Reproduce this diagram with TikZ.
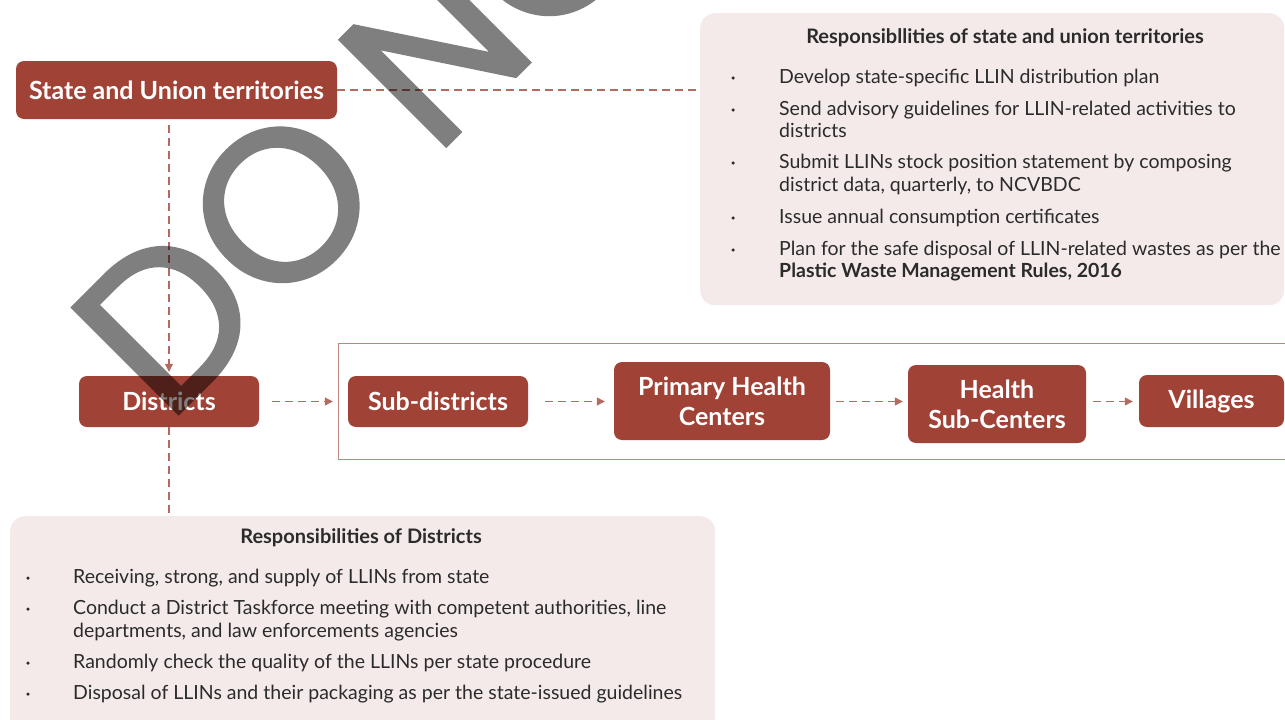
\documentclass[tikz,border=0pt]{standalone}
\usepackage{fontspec}
\setmainfont{Lato}
\newfontfamily\wmfont[FakeBold=1.5]{Poppins}
\usetikzlibrary{arrows.meta}
\definecolor{brick}{HTML}{A04236}
\definecolor{pinkbg}{HTML}{F5EAEA}
\definecolor{linec}{HTML}{B36A60}
\definecolor{framec}{HTML}{BF857D}
\definecolor{txt}{HTML}{2B2B2B}
\begin{document}
\begin{tikzpicture}[x=1pt,y=-1pt,
  flowbox/.style={fill=brick, rounded corners=8pt, text=white, font=\fontsize{25}{30}\selectfont\bfseries, align=center, inner sep=0pt},
  conn/.style={draw=linec, line width=1.2pt, dash pattern=on 8pt off 5pt},
  arr/.style={conn, -{Triangle[length=8pt,width=8pt]}},
  panel/.style={fill=pinkbg, rounded corners=15pt, inner sep=0pt, anchor=north west},
  ln/.style={font=\fontsize{19.5}{23}\selectfont, text=txt, anchor=base west, inner sep=0pt},
  dot/.style={circle, fill=txt, inner sep=0pt, minimum size=3.5pt},
  head/.style={font=\fontsize{20}{24}\selectfont\bfseries, text=txt, anchor=base, inner sep=0pt}]
\useasboundingbox (0,0) rectangle (1285,720);
\clip (0,0) rectangle (1285,720);

% panels
\node[panel, minimum width=584pt, minimum height=292pt] (rpanel) at (700,13) {};
\node[panel, minimum width=705pt, minimum height=230pt] (dpanel) at (10,516) {};
\node[draw=framec, line width=1.3pt, minimum width=960pt, minimum height=116pt, anchor=north west, inner sep=0pt] (frame) at (338,343) {};

% flow boxes
\node[flowbox, minimum width=321pt, minimum height=58pt] (state) at (176.5,90) {State and Union territories};
\node[flowbox, minimum width=180pt, minimum height=51pt] (dist) at (169,401.5) {Districts};
\node[flowbox, minimum width=180pt, minimum height=51pt] (sub) at (438,401.5) {Sub-districts};
\node[flowbox, minimum width=216pt, minimum height=78pt] (phc) at (722,401) {Primary Health\\Centers};
\node[flowbox, minimum width=178pt, minimum height=78pt] (hsc) at (997,404) {Health\\Sub-Centers};
\node[flowbox, minimum width=145pt, minimum height=52pt] (vil) at (1211.5,401) {Villages};

% connectors
\draw[conn] (state.east) -- (state.east -| rpanel.west);
\draw[arr, shorten <=6pt, shorten >=4pt] (dist.north |- state.south) -- (dist.north);
\draw[conn] (dist.south) -- (dist.south |- dpanel.north);
\draw[arr, shorten <=13pt, shorten >=15pt] (dist.east) -- (dist.east -| sub.west);
\draw[arr, shorten <=17pt, shorten >=9pt] (sub.east) -- (sub.east -| phc.west);
\draw[arr, shorten <=6pt, shorten >=5pt] (sub.east -| phc.east) -- (sub.east -| hsc.west);
\draw[arr, shorten <=7pt, shorten >=6pt] (sub.east -| hsc.east) -- (sub.east -| vil.west);

% right panel text
\node[head] (rhead) at (1005,43) {Responsibllities of state and union territories};
\node[ln] (r1) at (779,83) {Develop state-specific LLIN distribution plan};
\node[ln] (r2a) at (779,115) {Send advisory guidelines for LLIN-related activities to};
\node[ln] (r2b) at (779,137) {districts};
\node[ln] (r3a) at (779,168) {Submit LLINs stock position statement by composing};
\node[ln] (r3b) at (779,191) {district data, quarterly, to NCVBDC};
\node[ln] (r4) at (779,223) {Issue annual consumption certificates};
\node[ln] (r5a) at (779,255) {Plan for the safe disposal of LLIN-related wastes as per the};
\node[ln] (r5b) at (779,277) {\bfseries Plastic Waste Management Rules, 2016};
\foreach \y [count=\i] in {78,110,163,218,250}
  \node[dot] (rb\i) at (733,\y) {};

% bottom panel text
\node[head] (dhead) at (361,543) {Responsibilities of Districts};
\node[ln] (d1) at (73,583) {Receiving, strong, and supply of LLINs from state};
\node[ln] (d2a) at (73,614) {Conduct a District Taskforce meeting with competent authorities, line};
\node[ln] (d2b) at (73,637) {departments, and law enforcements agencies};
\node[ln] (d3) at (73,668) {Randomly check the quality of the LLINs per state procedure};
\node[ln] (d4) at (73,699) {Disposal of LLINs and their packaging as per the state-issued guidelines};
\foreach \y [count=\i] in {578,609,663,694}
  \node[dot] (db\i) at (28,\y) {};

% watermark
\begin{scope}[transparency group, opacity=0.5]
\node[text=black, inner sep=0pt] (wm) at (402,84)
  {\rotatebox{45}{\wmfont\fontsize{215}{215}\selectfont DO NOT}};
\end{scope}
\end{tikzpicture}
\end{document}
